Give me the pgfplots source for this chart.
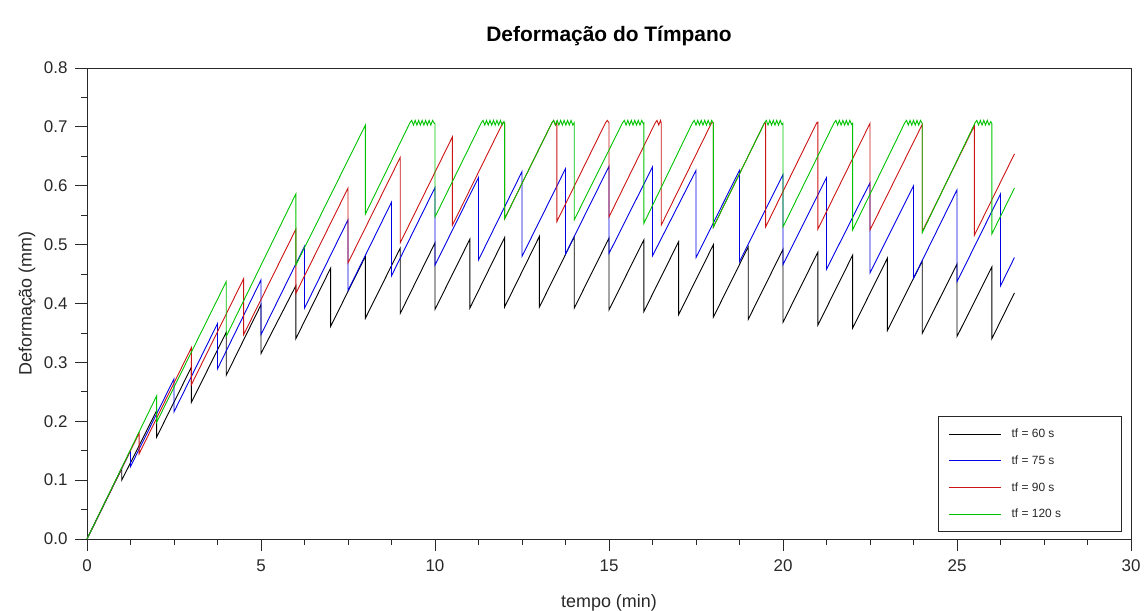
\documentclass[border=0pt]{standalone}
\usepackage{fontspec}
\setmainfont{Liberation Sans}
\usepackage{pgfplots}
\pgfplotsset{compat=1.18}
\definecolor{cgreen}{RGB}{0,195,0}
\definecolor{cblue}{RGB}{0,0,230}
\definecolor{cred}{RGB}{205,20,20}
\definecolor{axgray}{RGB}{40,40,40}
\begin{document}
\begin{tikzpicture}
\path[use as bounding box] (-87bp,-72bp) rectangle (1058bp,539bp);
\begin{axis}[
  at={(0,0)}, anchor=south west,
  scale only axis, width=1044bp, height=471bp,
  xmin=0, xmax=30, ymin=0, ymax=0.8,
  xtick={0,5,10,15,20,25,30}, minor x tick num=3,
  ytick={0,0.1,0.2,0.3,0.4,0.5,0.6,0.7,0.8}, minor y tick num=1,
  tick align=outside, xtick pos=bottom, ytick pos=left,
  major tick length=12bp, minor tick length=6bp,
  axis line style={axgray, line width=0.8bp},
  every tick/.style={axgray, line width=0.8bp},
  /pgf/number format/assume math mode=true,
  yticklabel style={/pgf/number format/fixed, /pgf/number format/fixed zerofill, /pgf/number format/precision=1, xshift=-4bp},
  ticklabel style={font=\fontsize{17}{17}\selectfont, text=axgray},
  xticklabel style={yshift=-5bp},
  every axis title/.style={at={(axis description cs:0.5,1.067)}, anchor=center, font=\bfseries\fontsize{21}{21}\selectfont},
  every axis x label/.style={at={(axis description cs:0.5,-0.136)}, anchor=center, font=\fontsize{18}{18}\selectfont, text=axgray},
  every axis y label/.style={at={(axis description cs:-0.0575,0.5)}, rotate=90, anchor=center, font=\fontsize{18}{18}\selectfont, text=axgray},
  title={Deformação do Tímpano},
  xlabel={tempo (min)},
  ylabel={Deformação (mm)},
  legend style={at={(axis description cs:1,0)}, anchor=south east, xshift=-9bp, yshift=7bp,
    draw=axgray, line width=0.8bp, inner xsep=10bp, inner ysep=4bp,
    nodes={inner sep=0pt, minimum height=26.7bp, font=\fontsize{12}{12}\selectfont, text=axgray}},
  legend cell align=left,
  legend image code/.code={\draw[#1, line width=1.2bp] (0bp,0bp) -- (52bp,0bp); \path (62bp,0bp);},
  every axis plot/.append style={line width=0.9bp},
]
\addplot[black] coordinates {
(0,0) (1,0.120) (1,0.100) (2,0.218) (2,0.173) (3,0.292) (3,0.232) (4,0.351) (4,0.278)
(5,0.398) (5,0.315) (6,0.430) (6,0.340) (7,0.460) (7,0.361) (8,0.480) (8,0.375)
(9,0.494) (9,0.383) (10,0.503) (10,0.390) (11,0.509) (11,0.392) (12,0.512) (12,0.394)
(13,0.514) (13,0.394) (14,0.513) (14,0.392) (15,0.511) (15,0.389) (16,0.508) (16,0.386)
(17,0.505) (17,0.381) (18,0.500) (18,0.377) (19,0.496) (19,0.373) (20,0.492) (20,0.368)
(21,0.487) (21,0.363) (22,0.482) (22,0.358) (23,0.477) (23,0.354) (24,0.472) (24,0.349)
(25,0.467) (25,0.344) (26,0.462) (26,0.340) (26.65,0.418)
};
\addlegendentry{\makebox[100bp][l]{tf = 60 s}}
\addplot[cblue] coordinates {
(0,0) (1.25,0.150) (1.25,0.123) (2.5,0.272) (2.5,0.216) (3.75,0.366) (3.75,0.289)
(5,0.440) (5,0.347) (6.25,0.497) (6.25,0.392) (7.5,0.542) (7.5,0.422) (8.75,0.572) (8.75,0.447)
(10,0.597) (10,0.465) (11.25,0.614) (11.25,0.474) (12.5,0.624) (12.5,0.480) (13.75,0.629) (13.75,0.484)
(15,0.633) (15,0.485) (16.25,0.632) (16.25,0.481) (17.5,0.626) (17.5,0.478) (18.75,0.626) (18.75,0.471)
(20,0.619) (20,0.466) (21.25,0.614) (21.25,0.458) (22.5,0.605) (22.5,0.452) (23.75,0.600) (23.75,0.443)
(25,0.593) (25,0.437) (26.25,0.586) (26.25,0.430) (26.65,0.478)
};
\addlegendentry{\makebox[100bp][l]{tf = 75 s}}
\addplot[cred] coordinates {
(0,0) (1.5,0.180) (1.5,0.145) (3,0.325) (3,0.262) (4.5,0.442) (4.5,0.347) (6,0.526) (6,0.417)
(7.5,0.596) (7.5,0.469) (9,0.648) (9,0.503) (10.5,0.683) (10.5,0.533) (11.95,0.707) (12,0.707) (12,0.544)
(13.36,0.707) (13.41,0.711) (13.46,0.703) (13.5,0.708) (13.5,0.539) (14.9,0.707) (14.95,0.711) (15,0.707) (15,0.547)
(16.33,0.707) (16.38,0.711) (16.43,0.703) (16.48,0.711) (16.5,0.707) (16.5,0.533) (17.95,0.707) (18,0.707) (18,0.530)
(19.47,0.707) (19.5,0.707) (19.5,0.530) (20.97,0.707) (21,0.708) (21,0.526) (22.5,0.706) (22.5,0.525)
(24,0.704) (24,0.522) (25.5,0.702) (25.5,0.516) (26.65,0.654)
};
\addlegendentry{\makebox[100bp][l]{tf = 90 s}}
\addplot[cgreen] coordinates {
(0,0) (2,0.243) (2,0.198) (4,0.437) (4,0.344) (6,0.586) (6,0.465) (8,0.703) (8,0.552)
(9.28,0.707) (9.33,0.711) (9.38,0.703) (9.43,0.711) (9.48,0.703) (9.53,0.711) (9.58,0.703) (9.63,0.711) (9.68,0.703) (9.73,0.711) (9.78,0.703) (9.83,0.711) (9.88,0.703) (9.93,0.711) (9.98,0.706) (10,0.706) (10,0.547)
(11.33,0.707) (11.38,0.711) (11.43,0.703) (11.48,0.711) (11.53,0.703) (11.58,0.711) (11.63,0.703) (11.68,0.711) (11.73,0.703) (11.78,0.711) (11.83,0.703) (11.88,0.711) (11.93,0.703) (11.98,0.709) (12,0.706) (12,0.544)
(13.36,0.707) (13.41,0.711) (13.46,0.703) (13.51,0.711) (13.56,0.703) (13.61,0.711) (13.66,0.703) (13.71,0.711) (13.76,0.703) (13.81,0.711) (13.86,0.703) (13.91,0.711) (13.96,0.703) (14,0.707) (14,0.542)
(15.39,0.707) (15.44,0.711) (15.49,0.703) (15.54,0.711) (15.59,0.703) (15.64,0.711) (15.69,0.703) (15.74,0.711) (15.79,0.703) (15.84,0.711) (15.89,0.703) (15.94,0.711) (15.99,0.705) (16,0.706) (16,0.536)
(17.40,0.707) (17.45,0.711) (17.50,0.703) (17.55,0.711) (17.60,0.703) (17.65,0.711) (17.70,0.703) (17.75,0.711) (17.80,0.703) (17.85,0.711) (17.90,0.703) (17.95,0.711) (18,0.706) (18,0.530)
(19.47,0.707) (19.52,0.711) (19.57,0.703) (19.62,0.711) (19.67,0.703) (19.72,0.711) (19.77,0.703) (19.82,0.711) (19.87,0.703) (19.92,0.711) (19.97,0.704) (20,0.706) (20,0.530)
(21.47,0.707) (21.52,0.711) (21.57,0.703) (21.62,0.711) (21.67,0.703) (21.72,0.711) (21.77,0.703) (21.82,0.711) (21.87,0.703) (21.92,0.711) (21.97,0.704) (22,0.706) (22,0.525)
(23.50,0.707) (23.55,0.711) (23.60,0.703) (23.65,0.711) (23.70,0.703) (23.75,0.711) (23.80,0.703) (23.85,0.711) (23.90,0.703) (23.95,0.711) (24,0.706) (24,0.520)
(25.52,0.707) (25.57,0.711) (25.62,0.703) (25.67,0.711) (25.72,0.703) (25.77,0.711) (25.82,0.703) (25.87,0.711) (25.92,0.703) (25.97,0.709) (26,0.706) (26,0.518)
(26.65,0.596)
};
\addlegendentry{\makebox[100bp][l]{tf = 120 s}}
\end{axis}
\end{tikzpicture}
\end{document}
